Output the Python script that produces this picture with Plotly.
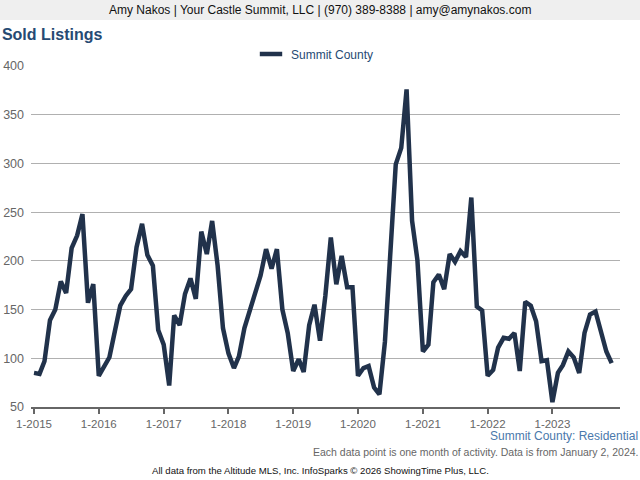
import pandas as pd
import plotly.graph_objects as go

# Monthly sold listings, Summit County (Jan 2015 - Dec 2023)
years = list(range(2015, 2024))
sold_2015 = [85, 84, 97, 139, 150, 179, 167, 213, 226, 248, 157, 176]
sold_2016 = [82, 93, 101, 128, 154, 164, 171, 214, 238, 206, 195, 129]
sold_2017 = [114, 72, 144, 134, 166, 182, 161, 230, 207, 241, 195, 131]
sold_2018 = [105, 90, 102, 131, 149, 171, 185, 212, 192, 212, 150, 126]
sold_2019 = [87, 99, 86, 134, 155, 118, 164, 224, 176, 205, 173, 173]
sold_2020 = [82, 90, 92, 70, 63, 117, 210, 299, 316, 376, 241, 201]
sold_2021 = [107, 114, 178, 186, 171, 207, 199, 210, 204, 265, 153, 149]
sold_2022 = [82, 88, 111, 121, 120, 126, 87, 158, 154, 138, 97, 98]
sold_2023 = [55, 85, 93, 107, 101, 85, 126, 145, 148, 126, 107, 95]

sold = (sold_2015 + sold_2016 + sold_2017 + sold_2018 + sold_2019
        + sold_2020 + sold_2021 + sold_2022 + sold_2023)
months = pd.date_range("2015-01-01", periods=len(sold), freq="MS")

tick_vals = [pd.Timestamp(f"{y}-01-01") for y in years]
tick_text = [f"1-{y}" for y in years]
y_ticks = [50, 100, 150, 200, 250, 300, 350, 400]

NAVY = "#21324b"
FONT = "Liberation Sans, Arial, sans-serif"

fig = go.Figure()
fig.add_trace(go.Scatter(
    x=months, y=sold, mode="lines", name="Summit County",
    line=dict(color=NAVY, width=4.5), showlegend=False,
))
# legend entry only (short thick dash like the original)
fig.add_trace(go.Scatter(
    x=[None], y=[None], mode="markers", name="Summit County",
    marker=dict(symbol="line-ew", size=16, line=dict(color=NAVY, width=4.5)),
))

# plot area in pixels: x 31..620, y 66..407
L, R, T, B = 31, 620, 66, 407


def px(x):
    return (x - L) / (R - L)


def py(y):
    return (B - y) / (B - T)


fig.update_layout(
    width=640, height=480,
    margin=dict(l=L, r=640 - R, t=T, b=480 - B),
    paper_bgcolor="white", plot_bgcolor="white",
    font=dict(family=FONT, color="#666666"),
    title=dict(text="<b>Sold Listings</b>", x=0.003, xref="container", xanchor="left",
               y=1 - 34 / 480, yref="container", yanchor="middle",
               font=dict(size=16, color="#264a73", family=FONT)),
    showlegend=True,
    legend=dict(orientation="h", x=px(315), xanchor="center", y=py(54), yanchor="middle",
                font=dict(size=12, color="#264a73"), itemwidth=30,
                bgcolor="rgba(0,0,0,0)"),
    xaxis=dict(range=[pd.Timestamp("2014-12-15"), pd.Timestamp("2024-01-17")],
               tickvals=tick_vals, ticktext=tick_text, showgrid=False,
               showline=True, linecolor="#666666", linewidth=2,
               ticks="outside", ticklen=5, tickwidth=2, tickcolor="#666666",
               tickfont=dict(size=11.5, color="#666666"), zeroline=False,
               automargin=False),
    yaxis=dict(range=[50, 400], tickvals=y_ticks, showgrid=True,
               gridcolor="#b0b0b0", gridwidth=1, zeroline=False,
               tickfont=dict(size=12.5, color="#666666"), ticklabelstandoff=6,
               automargin=False),
)

# header band
fig.add_shape(type="rect", xref="paper", yref="paper",
              x0=px(0), x1=px(640), y0=py(20), y1=py(0),
              fillcolor="#efefef", line=dict(width=0), layer="below")
fig.add_annotation(text="Amy Nakos | Your Castle Summit, LLC | (970) 389-8388 | amy@amynakos.com",
                   xref="paper", yref="paper", x=px(320), y=py(10),
                   xanchor="center", yanchor="middle", showarrow=False,
                   font=dict(size=12, color="#111111", family=FONT))

# footer texts
fig.add_annotation(text="Summit County: Residential",
                   xref="paper", yref="paper", x=px(640), y=py(436),
                   xanchor="right", yanchor="middle", showarrow=False,
                   font=dict(size=12, color="#4a78ab", family=FONT))
fig.add_annotation(text="Each data point is one month of activity. Data is from January 2, 2024.",
                   xref="paper", yref="paper", x=px(640), y=py(452),
                   xanchor="right", yanchor="middle", showarrow=False,
                   font=dict(size=10.5, color="#666666", family=FONT))
fig.add_annotation(text="All data from the Altitude MLS, Inc. InfoSparks © 2026 ShowingTime Plus, LLC.",
                   xref="paper", yref="paper", x=px(320), y=py(470),
                   xanchor="center", yanchor="middle", showarrow=False,
                   font=dict(size=9.6, color="#111111", family=FONT))

# remove the page's default 8px body margin so the figure sits at the window corner
fig.write_html("out.html", config={"displayModeBar": False},
               post_script="document.body.style.margin='0';")
